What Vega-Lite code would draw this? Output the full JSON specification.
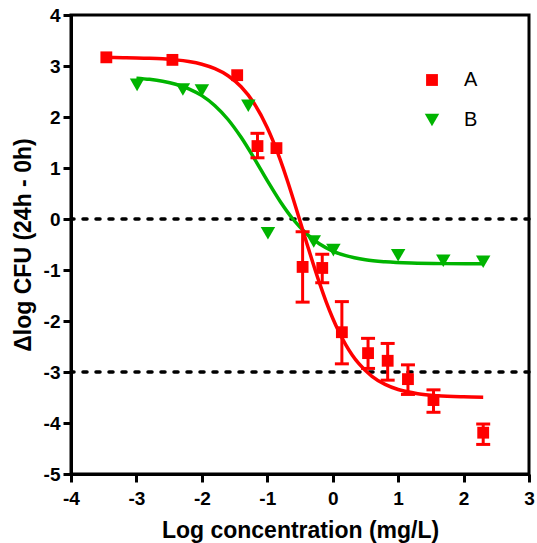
{
  "$schema": "https://vega.github.io/schema/vega-lite/v6.json",
  "width": 458,
  "height": 459,
  "autosize": "none",
  "padding": {"left": 71, "top": 15, "right": 8, "bottom": 69},
  "background": "white",
  "config": {
    "view": {"stroke": "black", "strokeWidth": 3},
    "font": "Liberation Sans",
    "axis": {
      "grid": false,
      "domainColor": "black",
      "domainWidth": 3,
      "tickColor": "black",
      "tickWidth": 3,
      "tickSize": 8,
      "labelFont": "Liberation Sans",
      "labelFontWeight": "bold",
      "labelFontSize": 19,
      "labelColor": "black",
      "labelFlush": false,
      "labelOverlap": false,
      "titleFont": "Liberation Sans",
      "titleFontWeight": "bold",
      "titleFontSize": 23,
      "titleColor": "black"
    }
  },
  "datasets": {
    "points": [
      {"series": "A", "x": -3.46, "y": 3.17},
      {"series": "A", "x": -2.45, "y": 3.12},
      {"series": "A", "x": -1.46, "y": 2.82},
      {"series": "A", "x": -1.15, "y": 1.43},
      {"series": "A", "x": -0.86, "y": 1.39},
      {"series": "A", "x": -0.46, "y": -0.94},
      {"series": "A", "x": -0.16, "y": -0.96},
      {"series": "A", "x": 0.14, "y": -2.22},
      {"series": "A", "x": 0.54, "y": -2.63},
      {"series": "A", "x": 0.84, "y": -2.78},
      {"series": "A", "x": 1.15, "y": -3.14},
      {"series": "A", "x": 1.54, "y": -3.55},
      {"series": "A", "x": 2.3, "y": -4.19},
      {"series": "B", "x": -2.99, "y": 2.63},
      {"series": "B", "x": -2.29, "y": 2.54},
      {"series": "B", "x": -2.0, "y": 2.52},
      {"series": "B", "x": -1.29, "y": 2.22},
      {"series": "B", "x": -0.99, "y": -0.28},
      {"series": "B", "x": -0.29, "y": -0.44},
      {"series": "B", "x": 0.01, "y": -0.61},
      {"series": "B", "x": 1.0, "y": -0.71},
      {"series": "B", "x": 1.69, "y": -0.82},
      {"series": "B", "x": 2.3, "y": -0.84}
    ],
    "errors": [
      {"x": -1.15, "lo": 1.2, "hi": 1.68},
      {"x": -0.46, "lo": -1.63, "hi": -0.25},
      {"x": -0.16, "lo": -1.25, "hi": -0.69},
      {"x": 0.14, "lo": -2.84, "hi": -1.62},
      {"x": 0.54, "lo": -2.93, "hi": -2.34},
      {"x": 0.84, "lo": -3.16, "hi": -2.44},
      {"x": 1.15, "lo": -3.44, "hi": -2.86},
      {"x": 1.54, "lo": -3.79, "hi": -3.35},
      {"x": 2.3, "lo": -4.42, "hi": -4.02}
    ],
    "curveA": [
      {"x": -3.46, "y": 3.167}, {"x": -3.2, "y": 3.163}, {"x": -3.0, "y": 3.159},
      {"x": -2.8, "y": 3.152}, {"x": -2.6, "y": 3.14}, {"x": -2.4, "y": 3.12},
      {"x": -2.2, "y": 3.088}, {"x": -2.0, "y": 3.035}, {"x": -1.8, "y": 2.948},
      {"x": -1.6, "y": 2.81}, {"x": -1.4, "y": 2.592}, {"x": -1.2, "y": 2.265},
      {"x": -1.0, "y": 1.789}, {"x": -0.9, "y": 1.491}, {"x": -0.8, "y": 1.153},
      {"x": -0.7, "y": 0.78}, {"x": -0.6, "y": 0.379}, {"x": -0.5, "y": -0.038},
      {"x": -0.4, "y": -0.46}, {"x": -0.3, "y": -0.872}, {"x": -0.2, "y": -1.263},
      {"x": -0.1, "y": -1.623}, {"x": 0.0, "y": -1.945}, {"x": 0.1, "y": -2.226},
      {"x": 0.2, "y": -2.467}, {"x": 0.3, "y": -2.67}, {"x": 0.4, "y": -2.837},
      {"x": 0.6, "y": -3.084}, {"x": 0.8, "y": -3.243}, {"x": 1.0, "y": -3.343},
      {"x": 1.3, "y": -3.425}, {"x": 1.6, "y": -3.465}, {"x": 2.0, "y": -3.487},
      {"x": 2.3, "y": -3.494}
    ],
    "curveB": [
      {"x": -3.0, "y": 2.761}, {"x": -2.8, "y": 2.738}, {"x": -2.6, "y": 2.701},
      {"x": -2.4, "y": 2.643}, {"x": -2.2, "y": 2.553}, {"x": -2.0, "y": 2.419},
      {"x": -1.8, "y": 2.222}, {"x": -1.6, "y": 1.951}, {"x": -1.4, "y": 1.601},
      {"x": -1.2, "y": 1.189}, {"x": -1.0, "y": 0.753}, {"x": -0.8, "y": 0.339},
      {"x": -0.6, "y": -0.015}, {"x": -0.4, "y": -0.29}, {"x": -0.2, "y": -0.49},
      {"x": 0.0, "y": -0.628}, {"x": 0.2, "y": -0.719}, {"x": 0.5, "y": -0.8},
      {"x": 0.8, "y": -0.84}, {"x": 1.2, "y": -0.865}, {"x": 1.7, "y": -0.875},
      {"x": 2.3, "y": -0.878}
    ],
    "refs": [{"y": 0}, {"y": -3}]
  },
  "layer": [
    {
      "data": {"name": "refs"},
      "mark": {"type": "rule", "color": "black", "strokeWidth": 3.5, "strokeDash": [4, 9], "strokeCap": "round"},
      "encoding": {
        "y": {"field": "y", "type": "quantitative", "title": "Δlog CFU (24h - 0h)", "scale": {"domain": [-5, 4], "nice": false, "zero": false},
          "axis": {"values": [-5, -4, -3, -2, -1, 0, 1, 2, 3, 4], "labelExpr": "'' + datum.value", "labelPadding": 3, "titlePadding": 8}}
      }
    },
    {
      "data": {"name": "curveB"},
      "mark": {"type": "line", "color": "#00B400", "strokeWidth": 3.5, "interpolate": "monotone"},
      "encoding": {
        "x": {"field": "x", "type": "quantitative", "title": "Log concentration (mg/L)"},
        "y": {"field": "y", "type": "quantitative", "title": "Δlog CFU (24h - 0h)"}
      }
    },
    {
      "data": {"name": "curveA"},
      "mark": {"type": "line", "color": "#FF0000", "strokeWidth": 3.5, "interpolate": "monotone"},
      "encoding": {
        "x": {"field": "x", "type": "quantitative", "title": "Log concentration (mg/L)"},
        "y": {"field": "y", "type": "quantitative", "title": "Δlog CFU (24h - 0h)"}
      }
    },
    {
      "data": {"name": "errors"},
      "mark": {"type": "errorbar", "color": "#FF0000", "opacity": 1, "thickness": 3, "ticks": {"size": 14, "thickness": 3, "color": "#FF0000", "opacity": 1}, "rule": {"opacity": 1, "strokeWidth": 3}},
      "encoding": {
        "x": {"field": "x", "type": "quantitative", "title": "Log concentration (mg/L)"},
        "y": {"field": "lo", "type": "quantitative", "title": "Δlog CFU (24h - 0h)"},
        "y2": {"field": "hi"}
      }
    },
    {
      "data": {"name": "points"},
      "mark": {"type": "point", "filled": true, "opacity": 1, "strokeWidth": 0},
      "encoding": {
        "x": {"field": "x", "type": "quantitative", "title": "Log concentration (mg/L)", "scale": {"domain": [-4, 3], "nice": false, "zero": false},
          "axis": {"values": [-4, -3, -2, -1, 0, 1, 2, 3], "labelExpr": "'' + datum.value", "labelPadding": 7, "titlePadding": 11}},
        "y": {"field": "y", "type": "quantitative", "title": "Δlog CFU (24h - 0h)"},
        "color": {"field": "series", "type": "nominal", "scale": {"domain": ["A", "B"], "range": ["#FF0000", "#00B400"]},
          "legend": {"orient": "none", "legendX": 351, "legendY": 55, "title": null, "labelFont": "Liberation Sans", "labelFontSize": 20, "labelFontWeight": "normal", "labelColor": "black", "rowPadding": 20, "labelOffset": 22, "padding": 0}},
        "shape": {"field": "series", "type": "nominal", "scale": {"domain": ["A", "B"], "range": ["square", "triangle-down"]}},
        "size": {"field": "series", "type": "nominal", "scale": {"domain": ["A", "B"], "range": [140, 210]}}
      }
    }
  ]
}
